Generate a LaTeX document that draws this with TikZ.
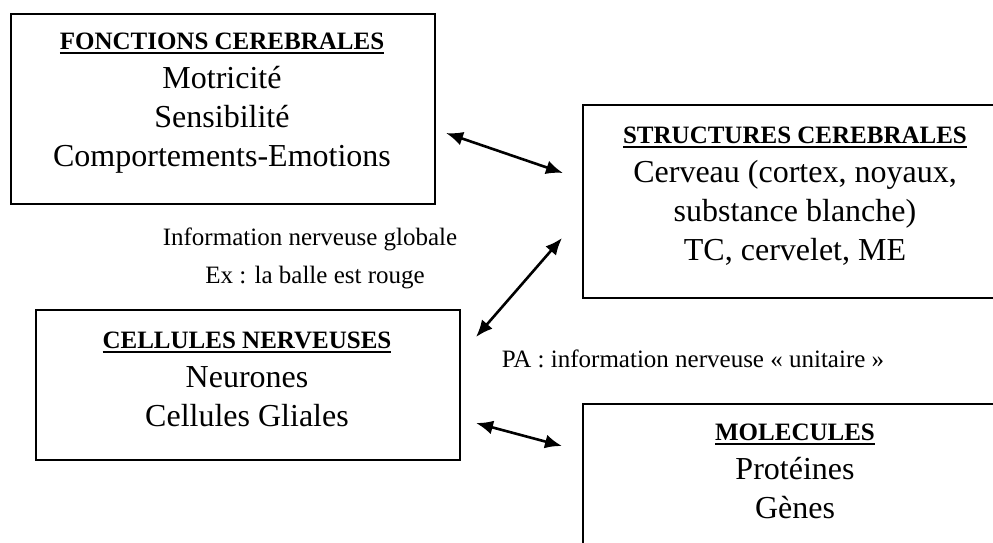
\documentclass[tikz,border=0pt]{standalone}
\usepackage{fontspec}
\setmainfont{Liberation Serif}
\usetikzlibrary{arrows.meta, positioning}

% underlined box title, thicker rule than \underline
\newcommand{\ulttl}[1]{\setbox0\hbox{#1}\dimen0=\wd0\rlap{\box0}\rule[-4.5pt]{\dimen0}{1.7pt}}

\begin{document}
\begin{tikzpicture}[
    x=1pt, y=-1pt,
    box/.style={rectangle, draw=black, line width=1.8pt, anchor=north west, inner sep=0pt},
    ttl/.style={font=\fontsize{25}{30}\selectfont\bfseries, anchor=base, inner sep=0pt},
    body/.style={font=\fontsize{32}{38}\selectfont, anchor=base, inner sep=0pt},
    note/.style={font=\fontsize{25}{30}\selectfont, anchor=base, inner sep=0pt},
    arr/.style={{Latex[length=17pt,width=14pt]}-{Latex[length=17pt,width=14pt]}, line width=2.6pt}
  ]
  \useasboundingbox (0,0) rectangle (993,542);
  \clip (0,0) rectangle (993,542);

  % Boxes
  \node[box, minimum width=424pt, minimum height=190pt] (fonct) at (10,13) {};
  \node[box, minimum width=428pt, minimum height=193pt] (struct) at (582,104) {};
  \node[box, minimum width=424pt, minimum height=150pt] (cell) at (35,309) {};
  \node[box, minimum width=428pt, minimum height=180pt] (mol) at (582,403) {};

  % Fonctions cerebrales
  \node[ttl] (fonct-t) at (222,49) {\ulttl{FONCTIONS CEREBRALES}};
  \foreach \txt [count=\i] in {Motricité, Sensibilité, Comportements-Emotions}
    \node[body] (fonct-\i) at (222,{49+39*\i}) {\txt};

  % Structures cerebrales
  \node[ttl] (struct-t) at (795,143) {\ulttl{STRUCTURES CEREBRALES}};
  \foreach \txt [count=\i] in {{Cerveau (cortex, noyaux,}, {substance blanche)}, {TC, cervelet, ME}}
    \node[body] (struct-\i) at (795,{143+39*\i}) {\txt};

  % Cellules nerveuses
  \node[ttl] (cell-t) at (247,348) {\ulttl{CELLULES NERVEUSES}};
  \foreach \txt [count=\i] in {Neurones, Cellules Gliales}
    \node[body] (cell-\i) at (247,{348+39*\i}) {\txt};

  % Molecules
  \node[ttl] (mol-t) at (795,440) {\ulttl{MOLECULES}};
  \foreach \txt [count=\i] in {Protéines, Gènes}
    \node[body] (mol-\i) at (795,{440+39*\i}) {\txt};

  % Labels
  \node[note] (info) at (310,245) {Information nerveuse globale};
  \node[note] (ex) at (315,283) {Ex : la balle est rouge};
  \node[note] (pa) at (693,367) {PA : information nerveuse « unitaire »};

  % Arrows
  \coordinate (a1) at (446,133);
  \coordinate (b1) at (563,173);
  \coordinate (a2) at (562,238);
  \coordinate (b2) at (476,337);
  \coordinate (a3) at (476,423);
  \coordinate (b3) at (562,446);
  \draw[arr] (a1) -- (b1);
  \draw[arr] (a2) -- (b2);
  \draw[arr] (a3) -- (b3);
\end{tikzpicture}
\end{document}
